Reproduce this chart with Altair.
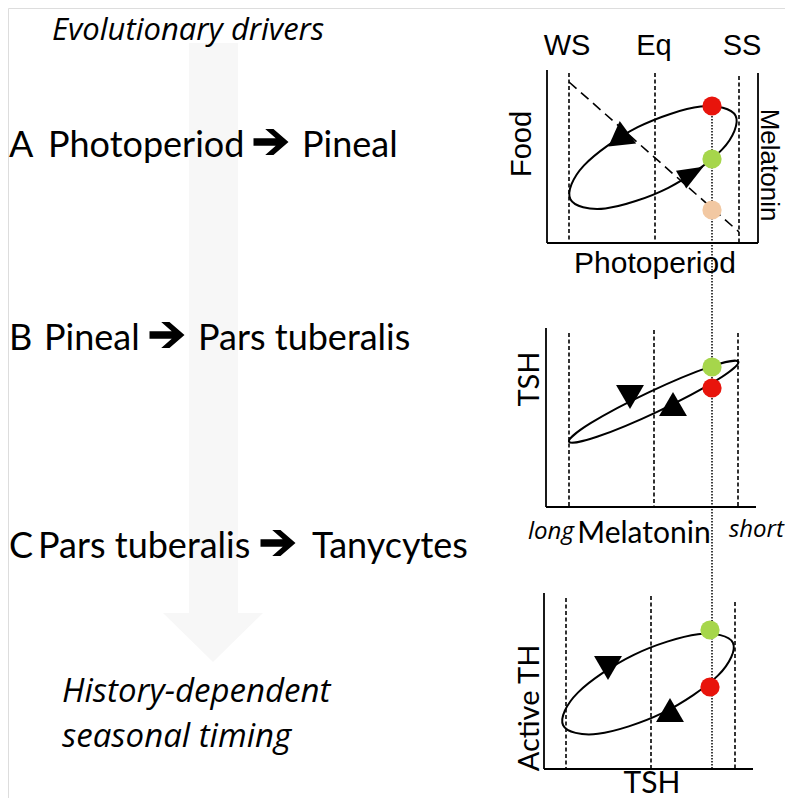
import altair as alt
import pandas as pd

# ---------------- data (image coordinates, px) ----------------
heading = "Evolutionary drivers"
step_letters = ["A", "B", "C"]
step_left = ["Photoperiod", "Pineal", "Pars tuberalis"]
step_right = ["Pineal", "Pars tuberalis", "Tanycytes"]
step_letter_x = [9, 9, 9]
step_left_x = [48, 44, 38]
step_arrow_x = [271, 167, 278]
step_arrow_y = [142, 335, 543]
step_right_x = [302, 198, 312]
step_y = [157, 350, 558]
outcome_lines = ["History-dependent", "seasonal timing"]
outcome_y = [702, 747]

# pale downward arrow
shaft_x, shaft_x2, shaft_y, shaft_y2 = 189, 238, 43, 613
head_x = [163, 213, 263]
head_y = [613, 613, 613]
head_y2 = [613, 662, 613]

# panel frames: x1, y1, x2, y2
frame_x1 = [547, 547, 758, 546, 546, 544, 544]
frame_y1 = [70, 243, 73, 328, 507, 593, 769]
frame_x2 = [547, 758, 758, 546, 756, 544, 753]
frame_y2 = [243, 243, 243, 507, 507, 769, 769]

# dashed season markers (WS, Eq, SS) per panel
season_x = [569, 655, 739, 569, 654, 738, 566, 651, 735]
season_top = [73, 73, 76, 333, 330, 333, 598, 596, 602]
season_bottom = [242, 242, 242, 507, 507, 507, 769, 769, 769]

# dotted connector and food diagonal
connector = dict(x=712, y=107, x2=712, y2=769)
food_line = dict(x=569, y=82, x2=739, y2=232)

# annual loops (points read around each ellipse)
loop_panel = ["A"] * 8 + ["B"] * 8 + ["C"] * 8
loop_order = list(range(8)) * 3
loop_x = [735.6, 722.2, 668.3, 605.4, 570.4, 583.8, 637.7, 700.6,
          738.4, 716.8, 658.2, 597.0, 569.0, 590.6, 649.2, 710.4,
          732.9, 718.1, 662.2, 598.0, 563.1, 577.9, 633.8, 698.0]
loop_y = [115.8, 149.4, 187.8, 208.4, 199.2, 165.6, 127.2, 106.6,
          361.7, 380.2, 411.3, 436.8, 441.7, 423.2, 392.1, 366.6,
          642.7, 675.4, 713.2, 733.8, 725.3, 692.6, 654.8, 634.2]

# direction arrowheads on loops
POINTY = "M0,-1L0.62,0.55L-0.62,0.55Z"
tri_x = [621, 689, 630, 673, 608, 670]
tri_y = [133, 175, 397, 404, 668, 710]
tri_shape = ["triangle-up", POINTY, "triangle-down", "triangle-up",
             "triangle-down", "triangle-up"]
tri_size = [780, 1100, 780, 780, 780, 780]
tri_angle = [354, 60, 0, 0, 0, 0]

# state dots
dot_x = [712, 712, 712, 712, 712, 710, 710]
dot_y = [106, 159, 210, 367, 388, 630, 687]
dot_color = ["#e8140c", "#a6d64b", "#f2c8a2", "#a6d64b", "#e8140c",
             "#a6d64b", "#e8140c"]

# panel labels
season_labels = ["WS", "Eq", "SS"]
season_label_x = [567, 654, 742]
season_label_y = [55, 55, 55]
arial_labels = ["Photoperiod"]
arial_x = [655]
arial_y = [273]
vert_up_labels = ["Food"]
vert_up_x = [522]
vert_up_y = [144]
vert_down_labels = ["Melatonin"]
vert_down_x = [769]
vert_down_y = [165]
sans_labels = ["Melatonin", "TSH"]
sans_x = [644, 652]
sans_y = [543, 793]
sans_vert_labels = ["TSH", "Active TH"]
sans_vert_x = [530, 530]
sans_vert_y = [379, 708]
italic_ends = ["long", "short"]
italic_end_x = [528, 784]
italic_end_y = [539, 537]

# ---------------- chart ----------------
XS = alt.Scale(domain=[8, 785], nice=False, zero=False)
YS = alt.Scale(domain=[8, 798], nice=False, zero=False, reverse=True)


def X(f="x"):
    return alt.X(f, type="quantitative", scale=XS, axis=None)


def Y(f="y"):
    return alt.Y(f, type="quantitative", scale=YS, axis=None)


LEFT_FONT = "Lato"
ITALIC_FONT = "Open Sans"
ARIAL = "Liberation Sans"
PALE = "#f7f7f7"
STEP_ARROW = ("M-1,-0.22L0.27,-0.22L-0.33,-0.74L0.14,-0.74L1,0"
              "L0.14,0.74L-0.33,0.74L0.27,0.22L-1,0.22Z")


def text_layer(xs, ys, ts, **kw):
    return alt.Chart(pd.DataFrame(dict(x=xs, y=ys, t=ts))).mark_text(
        color="black", **kw).encode(x=X(), y=Y(), text="t:N")


shaft = alt.Chart(pd.DataFrame([dict(x=shaft_x, x2=shaft_x2, y=shaft_y, y2=shaft_y2)])).mark_rect(
    color=PALE).encode(x=X(), x2="x2", y=Y(), y2="y2")
head = alt.Chart(pd.DataFrame(dict(x=head_x, y=head_y, y2=head_y2))).mark_area(
    color=PALE, orient="vertical").encode(x=X(), y=Y(), y2="y2")

heading_t = text_layer([52], [40], [heading], font=ITALIC_FONT, fontStyle="italic",
                       fontSize=31, align="left", baseline="alphabetic")
letters_t = text_layer(step_letter_x, step_y, step_letters, font=LEFT_FONT, fontSize=36,
                       align="left", baseline="alphabetic")
left_t = text_layer(step_left_x, step_y, step_left, font=LEFT_FONT, fontSize=36,
                    align="left", baseline="alphabetic")
arrow_m = alt.Chart(pd.DataFrame(dict(x=step_arrow_x, y=step_arrow_y))).mark_point(
    shape=STEP_ARROW, filled=True, color="black", opacity=1, size=1225).encode(x=X(), y=Y())
right_t = text_layer(step_right_x, step_y, step_right, font=LEFT_FONT, fontSize=36,
                     align="left", baseline="alphabetic")
outcome_t = text_layer([62, 62], outcome_y, outcome_lines, font=ITALIC_FONT, fontStyle="italic",
                       fontSize=33, align="left", baseline="alphabetic")

frames = alt.Chart(pd.DataFrame(dict(x=frame_x1, y=frame_y1, x2=frame_x2, y2=frame_y2))).mark_rule(
    color="black", strokeWidth=1.8).encode(x=X(), y=Y(), x2="x2", y2="y2")
seasons = alt.Chart(pd.DataFrame(dict(x=season_x, y=season_top, y2=season_bottom))).mark_rule(
    color="black", strokeWidth=1.6, strokeDash=[4, 2.5]).encode(x=X(), y=Y(), y2="y2")
conn = alt.Chart(pd.DataFrame([connector])).mark_rule(
    color="black", strokeWidth=1.5, strokeDash=[1.5, 1.5]).encode(x=X(), y=Y(), x2="x2", y2="y2")
food = alt.Chart(pd.DataFrame([food_line])).mark_rule(
    color="black", strokeWidth=1.6, strokeDash=[10, 6]).encode(x=X(), y=Y(), x2="x2", y2="y2")

loops = alt.Chart(pd.DataFrame(dict(p=loop_panel, o=loop_order, x=loop_x, y=loop_y))).mark_line(
    color="black", strokeWidth=2, interpolate="cardinal-closed").encode(
    x=X(), y=Y(), detail="p:N", order="o:Q")

tris = alt.Chart(pd.DataFrame(dict(x=tri_x, y=tri_y, s=tri_shape, a=tri_angle,
                                   z=tri_size))).mark_point(
    filled=True, color="black", opacity=1).encode(
    x=X(), y=Y(), shape=alt.Shape("s:N", scale=None), angle=alt.Angle("a:Q", scale=None),
    size=alt.Size("z:Q", scale=None))

dots = alt.Chart(pd.DataFrame(dict(x=dot_x, y=dot_y, c=dot_color))).mark_circle(
    opacity=1, size=370).encode(x=X(), y=Y(), color=alt.Color("c:N", scale=None))

ws_t = text_layer(season_label_x, season_label_y, season_labels, font=ARIAL, fontSize=29,
                  align="center", baseline="alphabetic")
photo_t = text_layer(arial_x, arial_y, arial_labels, font=ARIAL, fontSize=30,
                     align="center", baseline="alphabetic")
food_t = text_layer(vert_up_x, vert_up_y, vert_up_labels, font=ARIAL, fontSize=29,
                    align="center", baseline="middle", angle=270)
mel_t = text_layer(vert_down_x, vert_down_y, vert_down_labels, font=ARIAL, fontSize=26,
                   align="center", baseline="middle", angle=90)
sans_t = text_layer(sans_x, sans_y, sans_labels, font=LEFT_FONT, fontSize=30,
                    align="center", baseline="alphabetic")
sans_v = text_layer(sans_vert_x, sans_vert_y, sans_vert_labels, font=LEFT_FONT, fontSize=29,
                    align="center", baseline="middle", angle=270)
long_t = text_layer(italic_end_x[:1], italic_end_y[:1], italic_ends[:1], font=ITALIC_FONT,
                    fontStyle="italic", fontSize=24, baseline="alphabetic", align="left")
short_t = text_layer(italic_end_x[1:], italic_end_y[1:], italic_ends[1:], font=ITALIC_FONT,
                     fontStyle="italic", fontSize=24, baseline="alphabetic", align="right")

chart = alt.layer(
    shaft, head, heading_t, letters_t, left_t, arrow_m, right_t, outcome_t,
    seasons, food, conn, frames, loops, tris, dots,
    ws_t, photo_t, food_t, mel_t, sans_t, sans_v, long_t, short_t
).properties(width=777, height=790, padding=0, autosize=alt.AutoSizeParams(type="none")
).configure_view(stroke=None).configure(background="white")

chart.save("out.html", embed_options={"renderer": "svg", "actions": False})
